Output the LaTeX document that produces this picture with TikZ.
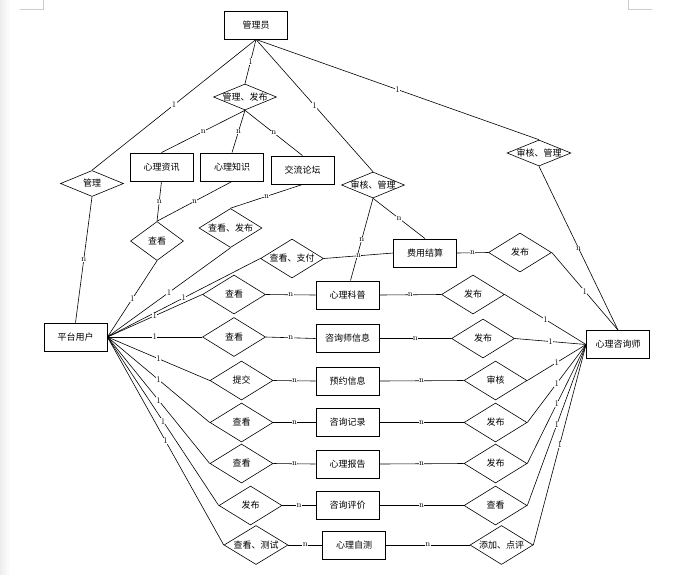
\documentclass[tikz,border=0pt]{standalone}
\usepackage{fontspec}
\newfontfamily\cjk{Noto Sans CJK SC}
\usetikzlibrary{shapes.geometric}
\tikzset{
  ent/.style={draw, line width=0.9pt, rectangle, inner sep=0pt, minimum width=63pt, minimum height=28pt, font=\cjk\fontsize{9}{10}\selectfont},
  rel/.style={draw, line width=0.6pt, diamond, inner sep=0pt, minimum width=63pt, minimum height=39pt, font=\cjk\fontsize{9}{10}\selectfont},
  flat/.style={rel, minimum height=26pt},
  lk/.style={line width=0.6pt},
  lb/.style={fill=white, inner sep=0.4pt, font=\fontsize{8.5}{9}\selectfont},
  corner/.style={draw=gray!40, line width=0.5pt}
}
\newcommand{\dt}[1]{\makebox[0pt]{#1}}
\begin{document}
\begin{tikzpicture}[x=1pt,y=-1pt]
\useasboundingbox (0,0) rectangle (700,574);
\shade[left color=gray!14, right color=white] (0,0) rectangle (10,574);
\draw[corner] (20,9) -- (43,9) -- (43,0);
\draw[corner] (652,9) -- (628,9) -- (628,0);

% entities
\node[ent] (admin) at (256,25) {管理员};
\node[ent] (zx) at (161.5,167) {心理资讯};
\node[ent] (zs) at (232,167) {心理知识};
\node[ent] (lt) at (302.5,170) {交流论坛};
\node[ent] (user) at (75.5,337) {平台用户};
\node[ent] (fy) at (425,253) {费用结算};
\node[ent] (kp) at (347.5,295) {心理科普};
\node[ent] (zxs) at (347.5,338.5) {咨询师信息};
\node[ent] (yy) at (347.5,381) {预约信息};
\node[ent] (jl) at (347.5,422.5) {咨询记录};
\node[ent] (bg) at (347.5,464) {心理报告};
\node[ent] (pj) at (347.5,505.5) {咨询评价};
\node[ent] (zc) at (354,545) {心理自测};
\node[ent] (coun) at (618,344.5) {心理咨询师};

% relationships
\node[flat] (glfb) at (245,97) {\dt{管理、发布}};
\node[flat] (gl) at (92,183.5) {\dt{管理}};
\node[rel, minimum width=53pt] (ck0) at (157,241) {\dt{查看}};
\node[rel] (ckfb) at (230.5,228) {\dt{查看、发布}};
\node[rel] (ckzf) at (292,258.5) {\dt{查看、支付}};
\node[flat] (shgl1) at (373,185) {\dt{审核、管理}};
\node[flat, minimum width=64pt] (shgl2) at (539,153) {\dt{审核、管理}};
\node[rel] (fb0) at (520,252.5) {\dt{发布}};

\node[rel] (ck1) at (234,294.5) {\dt{查看}};
\node[rel] (ck2) at (234,337) {\dt{查看}};
\node[rel] (tj) at (241.5,380.5) {\dt{提交}};
\node[rel] (ck4) at (241.5,422.5) {\dt{查看}};
\node[rel] (ck5) at (241.5,463.5) {\dt{查看}};
\node[rel] (fb6) at (250.5,505.5) {\dt{发布}};
\node[rel, minimum width=64pt] (ckcs) at (256,545) {\dt{查看、测试}};

\node[rel] (fb1) at (473,294.5) {\dt{发布}};
\node[rel] (fb2) at (483,338.5) {\dt{发布}};
\node[rel] (sh) at (495.5,380.5) {\dt{审核}};
\node[rel] (fb4) at (495.5,422.5) {\dt{发布}};
\node[rel] (fb5) at (495.5,463.5) {\dt{发布}};
\node[rel] (ck6) at (495.5,505.5) {\dt{查看}};
\node[rel, minimum width=63pt] (tjdp) at (501.5,545) {\dt{添加、点评}};

% connectors from admin
\draw[lk] (admin.south) -- node[lb]{1} (gl.north);
\draw[lk] (admin.south) -- node[lb]{1} (glfb.north);
\draw[lk] (admin.south) -- node[lb]{1} (shgl1.north);
\draw[lk] (admin.south) -- node[lb]{1} (shgl2.north);

\draw[lk] (glfb.south) -- node[lb]{n} (zx.north);
\draw[lk] (glfb.south) -- node[lb]{n} (zs.north);
\draw[lk] (glfb.south) -- node[lb]{n} (lt.north);

\draw[lk] (gl.south) -- node[lb]{n} (user.north);
\draw[lk] (zx.south) -- node[lb]{n} (ck0.north);
\draw[lk] (zs.south) -- node[lb]{n} (ck0.north);
\draw[lk] (lt.south) -- node[lb]{n} (ckfb.north);

\draw[lk] (shgl1.south) -- node[lb]{n} ([xshift=3pt]kp.north);
\draw[lk] (shgl1.south) -- node[lb]{n} (fy.north);
\draw[lk] (ckzf.east) -- node[lb]{n} (fy.west);
\draw[lk] (fy.east) -- node[lb]{n} (fb0.west);
\draw[lk] (fb0.east) -- node[lb]{1} (coun.north);
\draw[lk] (shgl2.south) -- node[lb]{n} (coun.north);

% user fan
\draw[lk] (user.east) -- node[lb]{1} (ck0.south);
\draw[lk] (user.east) -- node[lb]{1} (ckfb.south);
\draw[lk] (user.east) -- node[lb]{1} (ckzf.west);
\draw[lk] (user.east) -- node[lb]{1} (ck1.west);
\draw[lk] (user.east) -- node[lb]{1} (ck2.west);
\draw[lk] (user.east) -- node[lb]{1} (tj.west);
\draw[lk] (user.east) -- node[lb]{1} (ck4.west);
\draw[lk] (user.east) -- node[lb]{1} (ck5.west);
\draw[lk] (user.east) -- node[lb]{1} (fb6.west);
\draw[lk] (user.east) -- node[lb]{1} (ckcs.west);

% rows
\draw[lk] (ck1.east) -- node[lb]{n} (kp.west);
\draw[lk] (ck2.east) -- node[lb]{n} (zxs.west);
\draw[lk] (tj.east) -- node[lb]{n} (yy.west);
\draw[lk] (ck4.east) -- node[lb]{n} (jl.west);
\draw[lk] (ck5.east) -- node[lb]{n} (bg.west);
\draw[lk] (fb6.east) -- node[lb]{n} (pj.west);
\draw[lk] (ckcs.east) -- node[lb]{n} (zc.west);

\draw[lk] (kp.east) -- node[lb]{n} (fb1.west);
\draw[lk] (zxs.east) -- node[lb]{n} (fb2.west);
\draw[lk] (yy.east) -- node[lb]{n} (sh.west);
\draw[lk] (jl.east) -- node[lb]{n} (fb4.west);
\draw[lk] (bg.east) -- node[lb]{n} (fb5.west);
\draw[lk] (pj.east) -- node[lb]{n} (ck6.west);
\draw[lk] (zc.east) -- node[lb]{n} (tjdp.west);

% counsellor fan
\draw[lk] (fb1.east) -- node[lb]{1} (coun.west);
\draw[lk] (fb2.east) -- node[lb]{1} (coun.west);
\draw[lk] (sh.east) -- node[lb]{1} (coun.west);
\draw[lk] (fb4.east) -- node[lb]{1} (coun.west);
\draw[lk] (fb5.east) -- node[lb]{1} (coun.west);
\draw[lk] (ck6.east) -- node[lb]{1} (coun.west);
\draw[lk] (tjdp.east) -- node[lb]{1} (coun.west);
\end{tikzpicture}
\end{document}
